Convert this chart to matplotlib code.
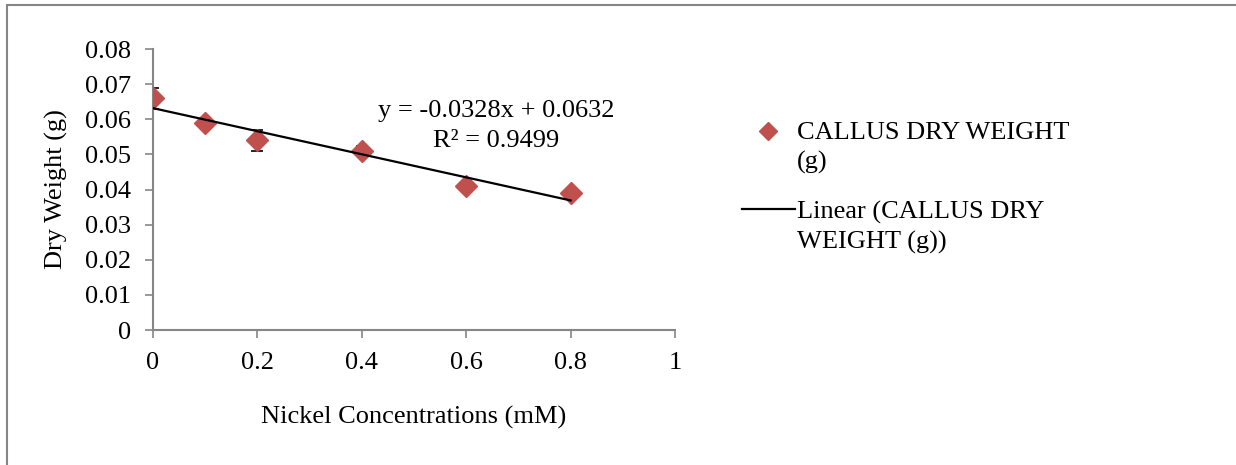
import numpy as np
import matplotlib
matplotlib.use("Agg")
import matplotlib.pyplot as plt
from matplotlib.lines import Line2D
from matplotlib.patches import Rectangle

# data
nickel_mm = [0, 0.1, 0.2, 0.4, 0.6, 0.8]
dry_weight = [0.066, 0.059, 0.054, 0.051, 0.041, 0.039]
dry_weight_err = [0.003, 0.001, 0.003, 0.0015, 0.0005, 0.001]
x_ticks = [0, 0.2, 0.4, 0.6, 0.8, 1]
y_ticks = [0, 0.01, 0.02, 0.03, 0.04, 0.05, 0.06, 0.07, 0.08]
series_label = "CALLUS DRY WEIGHT\n(g)"
trend_label = "Linear (CALLUS DRY\nWEIGHT (g))"
trend_text = "y = -0.0328x + 0.0632\nR\u00b2 = 0.9499"

plt.rcParams['font.family'] = ['Liberation Serif', 'DejaVu Serif']
FS = 19
RED = '#C0504D'
GREY = '#868686'

fig = plt.figure(figsize=(12.36, 4.65), dpi=100)
ax = fig.add_axes([153 / 1236, 1 - 330 / 465, 522 / 1236, 281 / 465])

ax.errorbar(nickel_mm, dry_weight, yerr=dry_weight_err, fmt='none',
            ecolor='black', elinewidth=1, capsize=4, capthick=1.2, zorder=2)
ax.plot(nickel_mm, dry_weight, 'D', color=RED, ms=11, mec=RED, zorder=3)

# linear trend line fitted to the points
slope, icept = np.polyfit(nickel_mm, dry_weight, 1)
xs = np.array([min(nickel_mm), max(nickel_mm)])
ax.plot(xs, slope * xs + icept, color='black', lw=1.6, zorder=4)
ax.text(0.657, 0.0581, trend_text, ha='center', va='center',
        fontsize=FS, linespacing=1.5)

ax.set_xlim(0, 1)
ax.set_ylim(0, 0.08)
ax.set_xticks(x_ticks)
ax.set_xticklabels(['0', '0.2', '0.4', '0.6', '0.8', '1'])
ax.set_yticks(y_ticks)
ax.set_yticklabels(['0'] + ['%.2f' % v for v in y_ticks[1:]])
ax.tick_params(axis='both', direction='out', length=6, width=1.2,
               color=GREY, labelsize=FS, pad=10)
ax.tick_params(axis='x', pad=10)
for s in ['top', 'right']:
    ax.spines[s].set_visible(False)
for s in ['left', 'bottom']:
    ax.spines[s].set_color(GREY)
    ax.spines[s].set_linewidth(1.5)

ax.set_xlabel('Nickel Concentrations (mM)', fontsize=FS, labelpad=23)
ax.set_ylabel('Dry Weight (g)', fontsize=FS, labelpad=12)

# legend, drawn by hand so the handles sit on the first text line
fig.add_artist(Line2D([768 / 1236], [1 - 131 / 465], marker='D', color=RED,
                      ms=9, ls='none', transform=fig.transFigure))
fig.text(797 / 1236, 1 - 122 / 465, series_label, fontsize=FS,
         va='top', ha='left', linespacing=1.38)
fig.add_artist(Line2D([742 / 1236, 795 / 1236], [1 - 209 / 465] * 2,
                      color='black', lw=1.6, transform=fig.transFigure))
fig.text(797 / 1236, 1 - 201 / 465, trend_label, fontsize=FS,
         va='top', ha='left', linespacing=1.38)

# chart frame
fig.add_artist(Rectangle((7 / 1236, -0.1), 1.2, 1 - 5 / 465 + 0.1,
                         transform=fig.transFigure, fill=False,
                         edgecolor=GREY, lw=1.5))

fig.savefig('out.png', dpi=100)
